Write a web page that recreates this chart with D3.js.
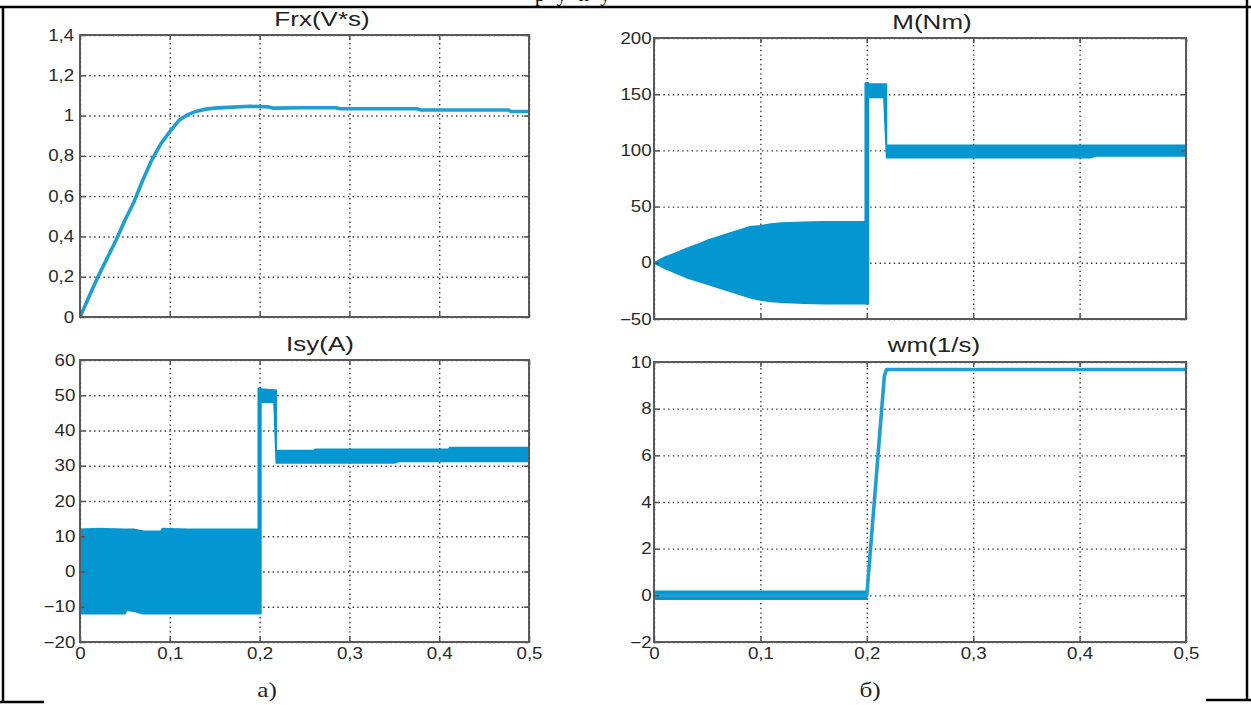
<!DOCTYPE html>
<html>
<head>
<meta charset="utf-8">
<script src="https://cdn.jsdelivr.net/npm/d3@7"></script>
<style>
  body { margin: 0; background: #fff; }
  svg { display: block; }
  .tick text { font-family: "Liberation Sans", Arial, sans-serif; font-size: 16px; fill: #2a2a2a; }
</style>
</head>
<body>
<div id="chart"></div>
<script>
// x axis (time, s) shared by all four panels
var xTicks = [0, 0.1, 0.2, 0.3, 0.4, 0.5];
var xTickLabels = ["0", "0,1", "0,2", "0,3", "0,4", "0,5"];

// y ticks of each panel
var frxTicks = [0, 0.2, 0.4, 0.6, 0.8, 1, 1.2, 1.4];
var frxTickLabels = ["0", "0,2", "0,4", "0,6", "0,8", "1", "1,2", "1,4"];
var mTicks = [-50, 0, 50, 100, 150, 200];
var mTickLabels = ["\u221250", "0", "50", "100", "150", "200"];
var isyTicks = [-20, -10, 0, 10, 20, 30, 40, 50, 60];
var isyTickLabels = ["\u221220", "\u221210", "0", "10", "20", "30", "40", "50", "60"];
var wmTicks = [-2, 0, 2, 4, 6, 8, 10];
var wmTickLabels = ["\u22122", "0", "2", "4", "6", "8", "10"];

// Frx(V*s) - flux, single line
var frxT = [0, 0.005, 0.01, 0.02, 0.03, 0.04, 0.05, 0.06, 0.07, 0.08, 0.09, 0.1, 0.11, 0.12, 0.13, 0.14, 0.15, 0.17, 0.19, 0.2, 0.21, 0.215, 0.25, 0.285, 0.29, 0.3, 0.375, 0.38, 0.45, 0.477, 0.48, 0.5];
var frxV = [0, 0.05, 0.1, 0.2, 0.29, 0.38, 0.48, 0.57, 0.68, 0.78, 0.86, 0.92, 0.975, 1.005, 1.022, 1.032, 1.037, 1.042, 1.046, 1.045, 1.043, 1.037, 1.039, 1.039, 1.034, 1.034, 1.034, 1.028, 1.028, 1.028, 1.02, 1.02];

// M(Nm) - torque, oscillating band (lower / upper envelope)
var mT  = [0, 0.01, 0.02, 0.03, 0.04, 0.05, 0.06, 0.07, 0.08, 0.09, 0.1, 0.11, 0.12, 0.14, 0.16, 0.18, 0.1985, 0.1985, 0.2015, 0.2015, 0.216, 0.2185, 0.2185, 0.3, 0.41, 0.415, 0.5];
var mLo = [0, -5, -9, -13, -16, -19, -22, -25, -28, -31, -33, -34.5, -35, -36, -36.5, -36.5, -36.5, -36.5, -36.5, 147, 147, 95, 93.5, 93.5, 93.5, 95, 95];
var mHi = [0, 5, 8.5, 12.5, 16, 20, 23, 26, 29, 32, 33, 34.5, 35.5, 36, 36.5, 36.5, 36.5, 160, 160, 159, 159, 159, 104.5, 104.5, 104.5, 104.5, 104.5];

// Isy(A) - current, oscillating band
var isyT  = [0, 0.02, 0.05, 0.052, 0.06, 0.07, 0.09, 0.092, 0.12, 0.15, 0.1985, 0.1985, 0.2015, 0.2015, 0.216, 0.2185, 0.2185, 0.26, 0.262, 0.35, 0.355, 0.41, 0.412, 0.5];
var isyLo = [-12, -12, -12, -11, -11.3, -12, -12, -12, -12, -12, -12, -12, -12, 48, 48, 31, 30.8, 30.8, 30.8, 30.8, 31.2, 31.2, 31.2, 31.2];
var isyHi = [12, 12.2, 12, 12, 12, 11.5, 11.4, 12.2, 12, 12, 12, 52, 52, 51.8, 51.5, 51.5, 34.3, 34.3, 34.7, 34.7, 34.7, 34.7, 35.2, 35.2];

// wm(1/s) - speed: ripple band before start, then line
var wmBandT  = [0, 0.2];
var wmBandLo = [-0.17, -0.17];
var wmBandHi = [0.17, 0.17];
var wmT = [0, 0.2, 0.2165, 0.2185, 0.5];
var wmV = [0, 0, 9.4, 9.68, 9.68];

var titles = ["Frx(V*s)", "M(Nm)", "Isy(A)", "wm(1/s)"];
var captions = ["a)", "\u0431)"];

var lineColor = "#1f9ed3";
var bandColor = "#0396d0";

var svg = d3.select("#chart").append("svg")
    .attr("width", 1251)
    .attr("height", 705);

// page frame (scanned document borders)
var frame = svg.append("g").attr("stroke", "#000").attr("stroke-width", 2.5).attr("fill", "none");
frame.append("path").attr("d", "M0,7H1251 M3,7V702 M1247,0V700 M0,702H44 M1206,700H1251");
svg.append("text")
    .attr("x", 535).attr("y", 1)
    .attr("font-family", "Liberation Serif, serif").attr("font-size", 20)
    .attr("letter-spacing", 12)
    .text("руку");

var panels = [
    {x0: 80,  y0: 35,  x1: 529,  y1: 317, dom: [0, 1.4],  ticks: frxTicks, labels: frxTickLabels, xLab: false, pad: 5, title: titles[0], tx: 322, ty: 26},
    {x0: 654, y0: 38,  x1: 1186, y1: 319, dom: [-50, 200], ticks: mTicks,   labels: mTickLabels,   xLab: false, pad: 2, title: titles[1], tx: 932, ty: 29},
    {x0: 80,  y0: 360, x1: 529,  y1: 642, dom: [-20, 60],  ticks: isyTicks, labels: isyTickLabels, xLab: true,  pad: 4, title: titles[2], tx: 320, ty: 351},
    {x0: 654, y0: 362, x1: 1186, y1: 642, dom: [-2, 10],   ticks: wmTicks,  labels: wmTickLabels,  xLab: true,  pad: 2, title: titles[3], tx: 934, ty: 352}
];

panels.forEach(function(p, i) {
    var w = p.x1 - p.x0, h = p.y1 - p.y0;
    var g = svg.append("g").attr("transform", "translate(" + p.x0 + "," + p.y0 + ")");
    p.x = d3.scaleLinear().domain([0, 0.5]).range([0, w]);
    p.y = d3.scaleLinear().domain(p.dom).range([h, 0]);
    p.g = g;

    // dotted grid
    g.append("g").attr("class", "grid")
        .call(d3.axisLeft(p.y).tickValues(p.ticks).tickSize(-w).tickFormat(""));
    g.append("g").attr("class", "grid").attr("transform", "translate(0," + h + ")")
        .call(d3.axisBottom(p.x).tickValues(xTicks).tickSize(-h).tickFormat(""));
    g.selectAll(".grid .domain").remove();
    g.selectAll(".grid line")
        .attr("stroke", "#333")
        .attr("stroke-width", 1.4)
        .attr("stroke-dasharray", "1.4,3.3");

    g.append("clipPath").attr("id", "clip" + i)
        .append("rect").attr("width", w).attr("height", h);
    p.plot = g.append("g").attr("clip-path", "url(#clip" + i + ")");

    // axes with inward ticks on all four sides
    var left = g.append("g")
        .call(d3.axisLeft(p.y).tickValues(p.ticks).tickSizeInner(-5).tickSizeOuter(0).tickPadding(p.pad)
            .tickFormat(function(d, k) { return p.labels[k]; }));
    left.selectAll("text").attr("transform", "scale(1.17,1)");
    g.append("g").attr("transform", "translate(" + w + ",0)")
        .call(d3.axisRight(p.y).tickValues(p.ticks).tickSizeInner(-5).tickSizeOuter(0).tickFormat(""));
    var bottom = g.append("g").attr("transform", "translate(0," + h + ")")
        .call(d3.axisBottom(p.x).tickValues(xTicks).tickSizeInner(-5).tickSizeOuter(0).tickPadding(6)
            .tickFormat(function(d, k) { return p.xLab ? xTickLabels[k] : ""; }));
    bottom.selectAll("text").attr("transform", "scale(1.17,1)");
    g.append("g")
        .call(d3.axisTop(p.x).tickValues(xTicks).tickSizeInner(-5).tickSizeOuter(0).tickFormat(""));
    g.selectAll(".domain").remove();
    g.selectAll("line").filter(function() { return !this.parentNode.parentNode.classList.contains("grid"); })
        .attr("stroke", "#555").attr("stroke-width", 1.5);

    g.append("rect")
        .attr("width", w).attr("height", h)
        .attr("fill", "none").attr("stroke", "#5a5a5a").attr("stroke-width", 2);

    svg.append("text")
        .attr("transform", "translate(" + p.tx + "," + p.ty + ") scale(1.3,1)")
        .attr("text-anchor", "middle")
        .attr("font-family", "Liberation Sans, Arial, sans-serif")
        .attr("font-size", 20)
        .attr("fill", "#222")
        .text(p.title);
});

function drawBand(p, t, lo, hi) {
    var area = d3.area()
        .x(function(d, k) { return p.x(t[k]); })
        .y0(function(d, k) { return p.y(lo[k]); })
        .y1(function(d, k) { return p.y(hi[k]); });
    p.plot.append("path")
        .attr("d", area(t))
        .attr("fill", bandColor)
        .attr("stroke", bandColor)
        .attr("stroke-width", 1.5)
        .attr("stroke-linejoin", "round");
}

function drawLine(p, t, v, width) {
    var line = d3.line()
        .x(function(d, k) { return p.x(t[k]); })
        .y(function(d, k) { return p.y(v[k]); });
    p.plot.append("path")
        .attr("d", line(t))
        .attr("fill", "none")
        .attr("stroke", lineColor)
        .attr("stroke-width", width)
        .attr("stroke-linejoin", "round");
}

drawLine(panels[0], frxT, frxV, 3.6);
drawBand(panels[1], mT, mLo, mHi);
drawBand(panels[2], isyT, isyLo, isyHi);
drawBand(panels[3], wmBandT, wmBandLo, wmBandHi);
drawLine(panels[3], wmT, wmV, 3.6);

// sub-figure captions
[[267, 697], [870, 697]].forEach(function(c, i) {
    svg.append("text")
        .attr("transform", "translate(" + c[0] + "," + c[1] + ") scale(1.2,1)")
        .attr("text-anchor", "middle")
        .attr("font-family", "Liberation Serif, Times New Roman, serif")
        .attr("font-size", 21)
        .attr("fill", "#222")
        .text(captions[i]);
});
</script>
</body>
</html>
